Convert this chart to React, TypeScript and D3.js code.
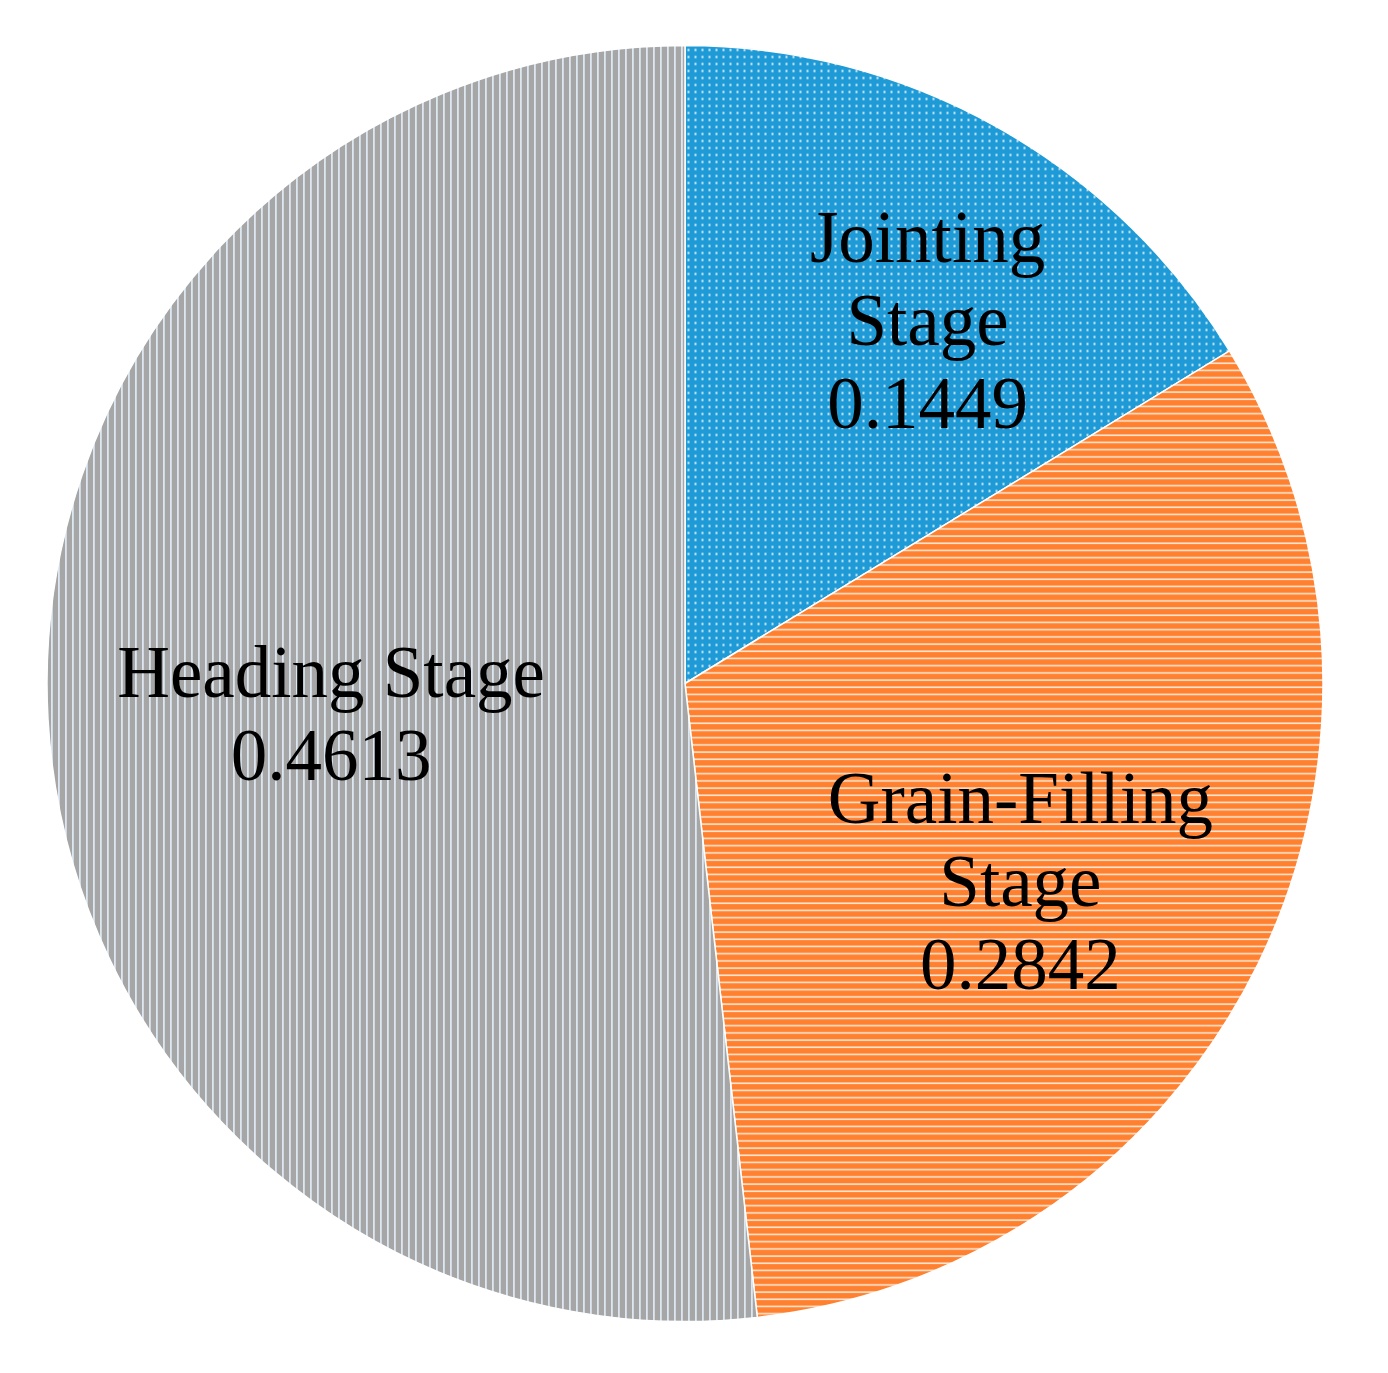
import React, { useRef, useEffect } from "react";
import * as d3 from "d3";

const stages = ["Jointing Stage", "Grain-Filling Stage", "Heading Stage"];
const values = [0.1449, 0.2842, 0.4613];
const labelLines = [
  ["Jointing", "Stage", "0.1449"],
  ["Grain-Filling", "Stage", "0.2842"],
  ["Heading Stage", "0.4613"],
];
const colors = ["#1E9BD7", "#FF8130", "#A6A6A6"];
const patternIds = ["dots", "hlines", "vlines"];
// small nudges of label centres, in px, relative to the centroid
const labelNudge = [
  [49, -18],
  [-20, 25],
  [41, 9],
];

const App = () => {
  const svgRef = useRef<SVGSVGElement>(null);

  useEffect(() => {
    const width = 1388;
    const height = 1373;
    const cx = 685;
    const cy = 683.5;
    const radius = 638;

    const svg = d3.select(svgRef.current);
    svg.selectAll("*").remove();
    svg.attr("width", width).attr("height", height);

    const defs = svg.append("defs");

    // dotted blue
    const p0 = defs
      .append("pattern")
      .attr("id", "dots")
      .attr("patternUnits", "userSpaceOnUse")
      .attr("width", 7)
      .attr("height", 7);
    p0.append("rect").attr("width", 7).attr("height", 7).attr("fill", colors[0]);
    p0.append("rect")
      .attr("x", 2.5)
      .attr("y", 2.5)
      .attr("width", 2)
      .attr("height", 2)
      .attr("fill", "#e8f4fb");

    // horizontal lines orange
    const p1 = defs
      .append("pattern")
      .attr("id", "hlines")
      .attr("patternUnits", "userSpaceOnUse")
      .attr("width", 7)
      .attr("height", 7.2);
    p1.append("rect").attr("width", 7).attr("height", 7.2).attr("fill", colors[1]);
    p1.append("rect")
      .attr("y", 3)
      .attr("width", 7)
      .attr("height", 1.6)
      .attr("fill", "#fde6d3");

    // vertical lines gray
    const p2 = defs
      .append("pattern")
      .attr("id", "vlines")
      .attr("patternUnits", "userSpaceOnUse")
      .attr("width", 7)
      .attr("height", 7);
    p2.append("rect").attr("width", 7).attr("height", 7).attr("fill", colors[2]);
    p2.append("rect")
      .attr("x", 3)
      .attr("width", 1.8)
      .attr("height", 7)
      .attr("fill", "#dce7f2");

    const pie = d3.pie<number>().sort(null).value((d) => d);
    const arcs = pie(values);
    const arc = d3.arc<d3.PieArcDatum<number>>().innerRadius(0).outerRadius(radius);
    const labelArc = d3
      .arc<d3.PieArcDatum<number>>()
      .innerRadius(radius * 0.62)
      .outerRadius(radius * 0.62);

    const g = svg.append("g").attr("transform", `translate(${cx},${cy})`);

    g.selectAll("path.slice")
      .data(arcs)
      .join("path")
      .attr("class", "slice")
      .attr("d", arc)
      .attr("fill", (d, i) => `url(#${patternIds[i]})`)
      .attr("stroke", "#ffffff")
      .attr("stroke-width", 1.5)
      .append("title")
      .text((d, i) => `${stages[i]}: ${values[i]}`);

    const lineH = 83;
    const labels = g
      .selectAll("text.label")
      .data(arcs)
      .join("text")
      .attr("class", "label")
      .attr("text-anchor", "middle")
      .attr("font-family", "'Liberation Serif', 'Times New Roman', serif")
      .attr("font-size", 73)
      .attr("fill", "#000")
      .attr("transform", (d, i) => {
        const [x, y] = labelArc.centroid(d);
        return `translate(${x + labelNudge[i][0]},${y + labelNudge[i][1]})`;
      });

    labels
      .selectAll("tspan")
      .data((d, i) => labelLines[i].map((t, j, arr) => ({ t, j, n: arr.length })))
      .join("tspan")
      .attr("x", 0)
      .attr("y", (d) => (d.j - (d.n - 1) / 2) * lineH + 24)
      .text((d) => d.t);
  }, []);

  return (
    <svg
      ref={svgRef}
      style={{ position: "absolute", left: 0, top: 0, background: "#fff" }}
    ></svg>
  );
};

export default App;
